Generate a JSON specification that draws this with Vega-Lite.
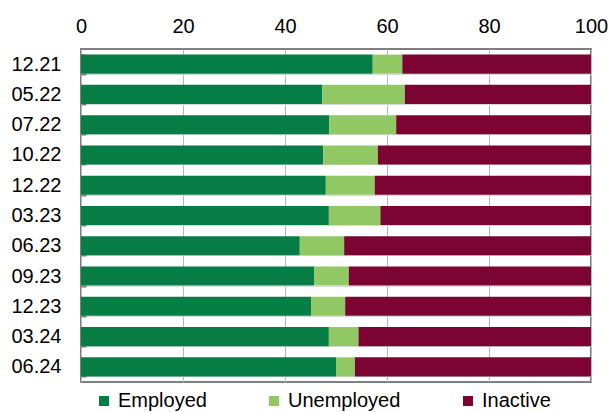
{
  "$schema": "https://vega.github.io/schema/vega-lite/v6.json",
  "width": 510,
  "height": 333,
  "autosize": {"type": "none"},
  "padding": {"left": 81, "top": 49, "right": 22, "bottom": 30},
  "background": "white",
  "config": {
    "font": "Liberation Sans",
    "view": {"stroke": "#7f7f7f", "strokeWidth": 2}
  },
  "data": {
    "values": [
      {"d": "12.21", "s": "Employed", "v": 57.2},
      {"d": "12.21", "s": "Unemployed", "v": 5.8},
      {"d": "12.21", "s": "Inactive", "v": 37.0},
      {"d": "05.22", "s": "Employed", "v": 47.3},
      {"d": "05.22", "s": "Unemployed", "v": 16.2},
      {"d": "05.22", "s": "Inactive", "v": 36.5},
      {"d": "07.22", "s": "Employed", "v": 48.7},
      {"d": "07.22", "s": "Unemployed", "v": 13.1},
      {"d": "07.22", "s": "Inactive", "v": 38.2},
      {"d": "10.22", "s": "Employed", "v": 47.5},
      {"d": "10.22", "s": "Unemployed", "v": 10.7},
      {"d": "10.22", "s": "Inactive", "v": 41.8},
      {"d": "12.22", "s": "Employed", "v": 48.0},
      {"d": "12.22", "s": "Unemployed", "v": 9.6},
      {"d": "12.22", "s": "Inactive", "v": 42.4},
      {"d": "03.23", "s": "Employed", "v": 48.6},
      {"d": "03.23", "s": "Unemployed", "v": 10.1},
      {"d": "03.23", "s": "Inactive", "v": 41.3},
      {"d": "06.23", "s": "Employed", "v": 42.9},
      {"d": "06.23", "s": "Unemployed", "v": 8.7},
      {"d": "06.23", "s": "Inactive", "v": 48.4},
      {"d": "09.23", "s": "Employed", "v": 45.7},
      {"d": "09.23", "s": "Unemployed", "v": 6.8},
      {"d": "09.23", "s": "Inactive", "v": 47.5},
      {"d": "12.23", "s": "Employed", "v": 45.1},
      {"d": "12.23", "s": "Unemployed", "v": 6.7},
      {"d": "12.23", "s": "Inactive", "v": 48.2},
      {"d": "03.24", "s": "Employed", "v": 48.6},
      {"d": "03.24", "s": "Unemployed", "v": 5.8},
      {"d": "03.24", "s": "Inactive", "v": 45.6},
      {"d": "06.24", "s": "Employed", "v": 50.0},
      {"d": "06.24", "s": "Unemployed", "v": 3.7},
      {"d": "06.24", "s": "Inactive", "v": 46.3}
    ]
  },
  "mark": {"type": "bar"},
  "encoding": {
    "y": {
      "field": "d",
      "type": "nominal",
      "sort": null,
      "scale": {"paddingInner": 0.37, "paddingOuter": 0.185},
      "axis": {
        "title": null,
        "domain": false,
        "tickBand": "extent",
        "tickSize": -5,
        "tickColor": "#7f7f7f",
        "tickWidth": 2,
        "grid": true,
        "gridColor": "#d5d8dc",
        "gridWidth": 1,
        "labelFontSize": 20,
        "labelColor": "#000000",
        "labelPadding": 25
      }
    },
    "x": {
      "field": "v",
      "type": "quantitative",
      "stack": "zero",
      "scale": {"domain": [0, 100], "nice": false},
      "axis": {
        "orient": "top",
        "title": null,
        "values": [0, 20, 40, 60, 80, 100],
        "domain": false,
        "ticks": false,
        "grid": true,
        "gridColor": "#b4b8c0",
        "gridWidth": 1,
        "labelFontSize": 20,
        "labelColor": "#000000",
        "labelPadding": 13,
        "labelFlush": false
      }
    },
    "color": {
      "field": "s",
      "type": "nominal",
      "sort": ["Employed", "Unemployed", "Inactive"],
      "scale": {
        "domain": ["Employed", "Unemployed", "Inactive"],
        "range": ["#077d46", "#92c864", "#7b0432"]
      },
      "legend": {
        "title": null,
        "orient": "none",
        "direction": "horizontal",
        "legendX": 13,
        "legendY": 342,
        "padding": 0,
        "symbolType": "square",
        "symbolSize": 100,
        "symbolStrokeWidth": 0,
        "labelFontSize": 20,
        "labelColor": "#000000",
        "labelOffset": 4,
        "columnPadding": 57
      }
    },
    "order": {"field": "o", "type": "quantitative"}
  }
}
